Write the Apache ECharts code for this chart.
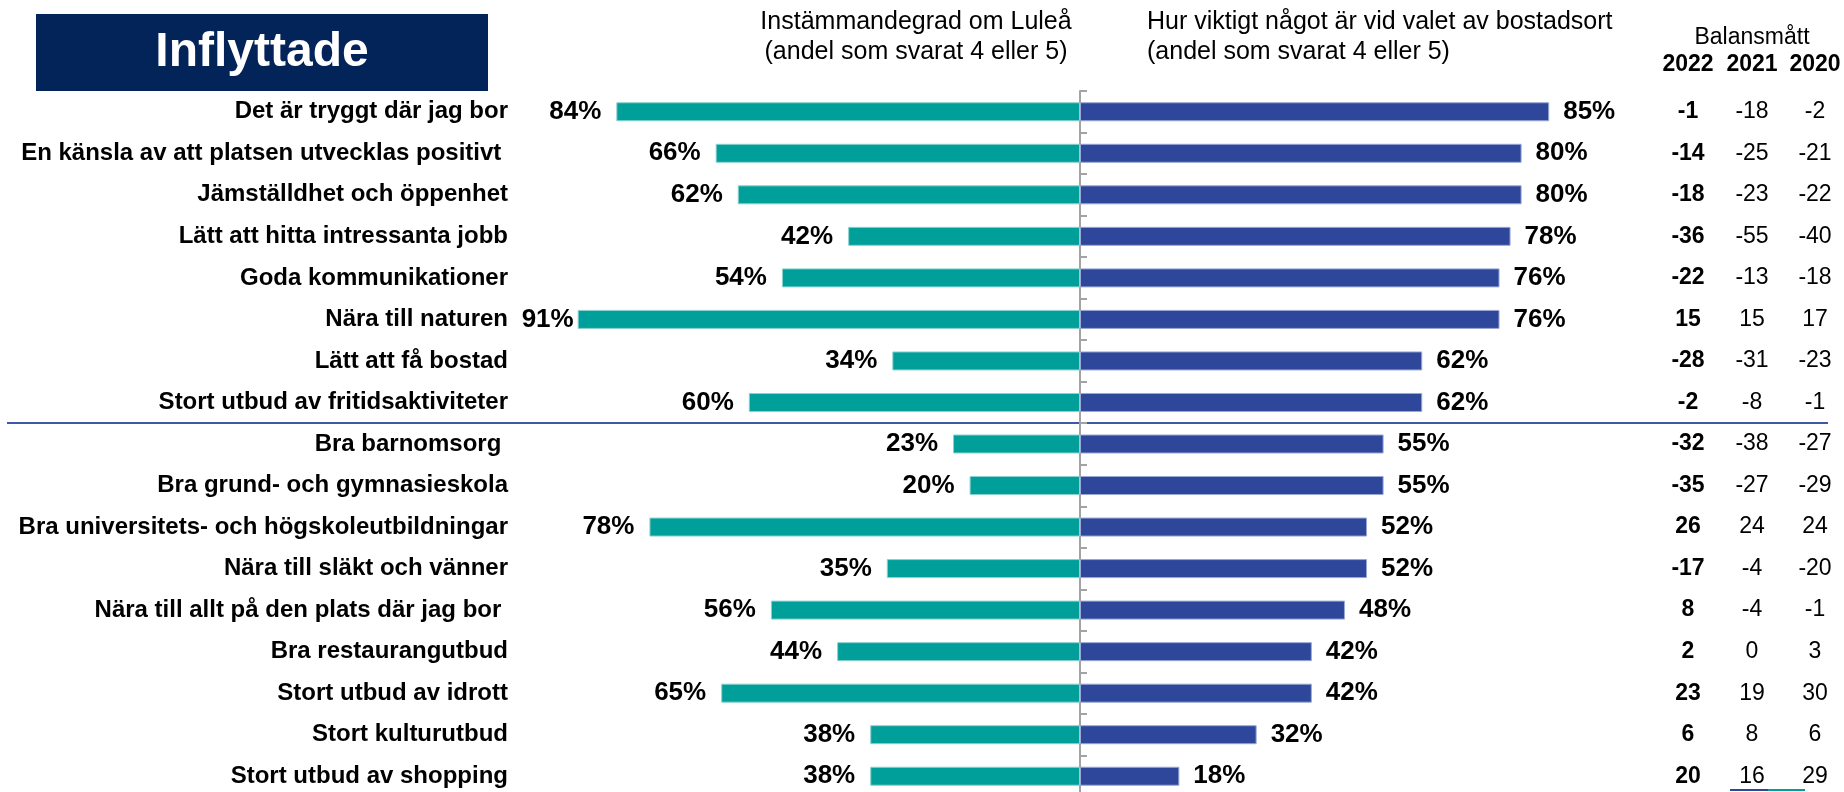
<!DOCTYPE html>
<html>
<head>
<meta charset="utf-8">
<title>Inflyttade</title>
<script src="https://cdn.jsdelivr.net/npm/echarts@6/dist/echarts.min.js"></script>
<style>
  html, body { margin: 0; padding: 0; background: #fff; }
  #chart { width: 1844px; height: 792px; }
</style>
</head>
<body>
<div id="chart"></div>
<script>
// kategorier, uppifrån och ned
const categories = [
  'Det är tryggt där jag bor',
  'En känsla av att platsen utvecklas positivt ',
  'Jämställdhet och öppenhet',
  'Lätt att hitta intressanta jobb',
  'Goda kommunikationer',
  'Nära till naturen',
  'Lätt att få bostad',
  'Stort utbud av fritidsaktiviteter',
  'Bra barnomsorg ',
  'Bra grund- och gymnasieskola',
  'Bra universitets- och högskoleutbildningar',
  'Nära till släkt och vänner',
  'Nära till allt på den plats där jag bor ',
  'Bra restaurangutbud',
  'Stort utbud av idrott',
  'Stort kulturutbud',
  'Stort utbud av shopping'
]
// Instämmandegrad om Luleå (%)
const agree = [84, 66, 62, 42, 54, 91, 34, 60, 23, 20, 78, 35, 56, 44, 65, 38, 38]
// Hur viktigt något är vid valet av bostadsort (%)
const importance = [85, 80, 80, 78, 76, 76, 62, 62, 55, 55, 52, 52, 48, 42, 42, 32, 18]
// Balansmått
const bal2022 = [-1, -14, -18, -36, -22, 15, -28, -2, -32, -35, 26, -17, 8, 2, 23, 6, 20]
const bal2021 = [-18, -25, -23, -55, -13, 15, -31, -8, -38, -27, 24, -4, -4, 0, 19, 8, 16]
const bal2020 = [-2, -21, -22, -40, -18, 17, -23, -1, -27, -29, 24, -20, -1, 3, 30, 6, 29]
const years = ['2022', '2021', '2020']

const FONT = '"Liberation Sans", Arial, sans-serif'
const TEAL = '#009F99'
const BLUE = '#2E479B'
const gridLeft = 528
const gridWidth = 1104
const colOffsets = [56, 120, 183] // avstånd från gridens högerkant till kolumnmitt

const chart = echarts.init(document.getElementById('chart'))

const balanceAxes = [bal2022, bal2021, bal2020].map((col, i) => ({
  type: 'category',
  data: col.map(String),
  inverse: true,
  position: 'right',
  offset: colOffsets[i],
  axisLine: { show: false, onZero: false },
  axisTick: { show: false },
  axisLabel: {
    interval: 0,
    margin: 0,
    align: 'center',
    fontSize: 23,
    fontWeight: i === 0 ? 'bold' : 'normal',
    color: '#000',
    fontFamily: FONT
  }
}))

const gridRight = gridLeft + gridWidth

const option = {
  animation: false,
  grid: { left: gridLeft, width: gridWidth, top: 91, height: 706, outerBoundsMode: 'none' },
  xAxis: { type: 'value', min: -100, max: 100, show: false },
  yAxis: [
    {
      // kategoritexter till vänster
      type: 'category',
      data: categories,
      inverse: true,
      axisLine: { show: false, onZero: false },
      axisTick: { show: false },
      axisLabel: {
        interval: 0,
        margin: 20,
        fontSize: 24,
        fontWeight: 'bold',
        color: '#000',
        fontFamily: FONT
      }
    },
    {
      // mittlinjen med små streck
      type: 'category',
      data: categories,
      inverse: true,
      axisLine: { show: true, onZero: true, lineStyle: { color: '#A3A3A3', width: 2 } },
      axisTick: { show: true, length: 7, lineStyle: { color: '#A3A3A3', width: 2 } },
      axisLabel: { show: false }
    },
    ...balanceAxes
  ],
  series: [
    {
      type: 'bar',
      name: 'Instämmandegrad om Luleå',
      // långa staplar får etiketten närmare, annars krockar den med kategoritexten
      data: agree.map(v => (v > 88 ? { value: -v, label: { distance: 4 } } : -v)),
      barWidth: 19,
      barGap: '-100%',
      itemStyle: { color: TEAL, borderColor: '#8CD2CE', borderWidth: 1 },
      label: {
        show: true,
        position: 'left',
        distance: 15,
        formatter: p => Math.abs(p.value) + '%',
        fontSize: 26,
        fontWeight: 'bold',
        color: '#000',
        fontFamily: FONT
      }
    },
    {
      type: 'bar',
      name: 'Hur viktigt något är vid valet av bostadsort',
      data: importance,
      barWidth: 19,
      barGap: '-100%',
      itemStyle: { color: BLUE, borderColor: '#9AA8D4', borderWidth: 1 },
      label: {
        show: true,
        position: 'right',
        distance: 14,
        formatter: p => p.value + '%',
        fontSize: 26,
        fontWeight: 'bold',
        color: '#000',
        fontFamily: FONT
      }
    }
  ],
  graphic: [
    { type: 'rect', shape: { x: 36, y: 14, width: 452, height: 77 }, style: { fill: '#022459' } },
    {
      type: 'text', x: 262, y: 53,
      style: { text: 'Inflyttade', fill: '#fff', font: 'bold 48px ' + FONT, textAlign: 'center', textVerticalAlign: 'middle' }
    },
    {
      type: 'text', x: 916, y: 22,
      style: { text: 'Instämmandegrad om Luleå', fill: '#000', font: '25px ' + FONT, textAlign: 'center', textVerticalAlign: 'middle' }
    },
    {
      type: 'text', x: 916, y: 52,
      style: { text: '(andel som svarat 4 eller 5)', fill: '#000', font: '25px ' + FONT, textAlign: 'center', textVerticalAlign: 'middle' }
    },
    {
      type: 'text', x: 1147, y: 22,
      style: { text: 'Hur viktigt något är vid valet av bostadsort', fill: '#000', font: '25px ' + FONT, textAlign: 'left', textVerticalAlign: 'middle' }
    },
    {
      type: 'text', x: 1147, y: 52,
      style: { text: '(andel som svarat 4 eller 5)', fill: '#000', font: '25px ' + FONT, textAlign: 'left', textVerticalAlign: 'middle' }
    },
    {
      type: 'text', x: gridRight + colOffsets[1], y: 38,
      style: { text: 'Balansmått', fill: '#000', font: '23px ' + FONT, textAlign: 'center', textVerticalAlign: 'middle' }
    },
    ...years.map((y, i) => ({
      type: 'text', x: gridRight + colOffsets[i], y: 65,
      style: { text: y, fill: '#000', font: 'bold 23px ' + FONT, textAlign: 'center', textVerticalAlign: 'middle' }
    })),
    // skiljelinje mellan de två grupperna
    { type: 'line', shape: { x1: 7, y1: 423, x2: 1828, y2: 423 }, style: { stroke: '#3D59A6', lineWidth: 2 } },
    // bit av teckenförklaringen längst ned
    { type: 'line', shape: { x1: 1730, y1: 790, x2: 1768, y2: 790 }, style: { stroke: BLUE, lineWidth: 2 } },
    { type: 'line', shape: { x1: 1768, y1: 790, x2: 1805, y2: 790 }, style: { stroke: TEAL, lineWidth: 2 } }
  ]
}

chart.setOption(option)
</script>
</body>
</html>
